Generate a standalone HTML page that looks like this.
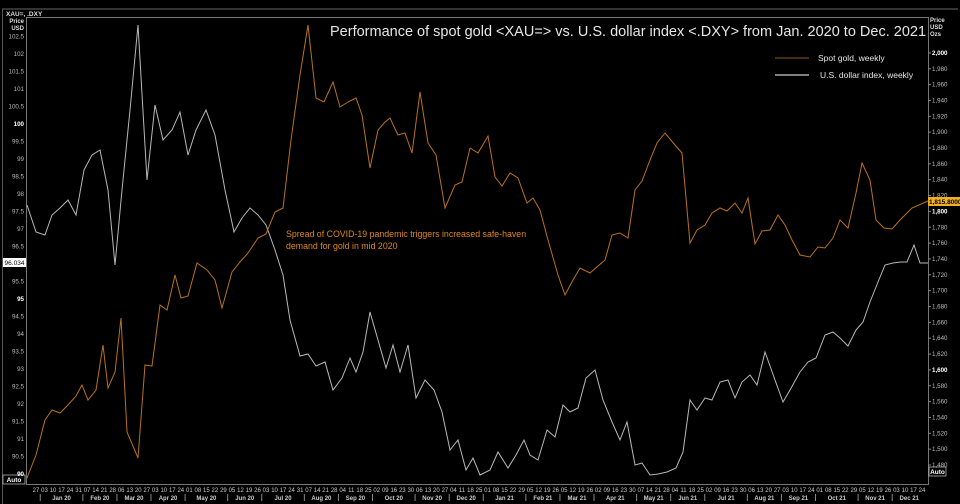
<!DOCTYPE html>
<html><head><meta charset="utf-8"><style>
html,body{margin:0;padding:0;background:#000;width:960px;height:504px;overflow:hidden}
svg{display:block;font-family:"Liberation Sans",sans-serif}
</style></head><body>
<svg id="s" width="960" height="504" viewBox="0 0 960 504">
<rect width="960" height="504" fill="#000"/>
<line x1="2" y1="9" x2="958" y2="9" stroke="#666" stroke-width="1"/>
<line x1="2.5" y1="9" x2="2.5" y2="504" stroke="#555"/>
<text x="6" y="16" fill="#ddd" font-size="6.5" font-weight="bold">XAU=, .DXY</text>
<rect x="26.5" y="17.5" width="902" height="467" fill="none" stroke="#777" stroke-width="1"/>
<text x="24" y="23" fill="#ddd" font-size="6" font-weight="bold" text-anchor="end">Price</text>
<text x="24" y="30" fill="#ddd" font-size="6" font-weight="bold" text-anchor="end">USD</text>
<text x="930" y="22" fill="#ddd" font-size="6" font-weight="bold">Price</text>
<text x="930" y="29" fill="#ddd" font-size="6" font-weight="bold">USD</text>
<text x="930" y="36" fill="#ddd" font-size="6" font-weight="bold">Ozs</text>
<rect x="3" y="475" width="22" height="9" fill="none" stroke="#ccc" stroke-width="0.7"/>
<text x="14" y="482" fill="#fff" font-size="6.5" font-weight="bold" text-anchor="middle">Auto</text>
<rect x="929" y="467" width="17" height="9" fill="none" stroke="#ccc" stroke-width="0.7"/>
<text x="937.5" y="474" fill="#fff" font-size="6.5" font-weight="bold" text-anchor="middle">Auto</text>
<text x="330" y="36" fill="#e6e6e6" font-size="14.5">Performance of spot gold &lt;XAU=&gt; vs. U.S. dollar index &lt;.DXY&gt;  from Jan. 2020 to Dec. 2021</text>
<line x1="775" y1="58" x2="809" y2="58" stroke="#8a5a1a" stroke-width="1"/>
<text x="818" y="61" fill="#e6e6e6" font-size="8.5">Spot gold, weekly</text>
<line x1="775" y1="75" x2="809" y2="75" stroke="#aaa" stroke-width="1.5"/>
<text x="820" y="78" fill="#e6e6e6" font-size="8.5">U.S. dollar index, weekly</text>
<text x="286" y="237" fill="#e0891e" font-size="8.8">Spread of COVID-19 pandemic triggers increased safe-haven</text>
<text x="286" y="249" fill="#e0891e" font-size="8.8">demand for gold in mid 2020</text>
<g id="g"></g>
</svg>
<script>
var ns="http://www.w3.org/2000/svg",G=document.getElementById("g");
function el(t,a,txt){var e=document.createElementNS(ns,t);for(var k in a)e.setAttribute(k,a[k]);if(txt!=null)e.textContent=txt;G.appendChild(e);return e;}
// left axis
for(var i=0;i<=25;i++){var v=90+i*0.5,y=474-i*17.5;var b=(v%5==0);
el("text",{x:24,y:y+2,fill:b?"#fff":"#bbb","font-size":6.2,"font-weight":b?"bold":"normal","text-anchor":"end"},(v%1==0?v.toFixed(0):v.toFixed(1)));}
// right axis
for(var v=1480;v<=2000;v+=20){var y=465-(v-1480)/20*15.85;var b=(v%200==0);
el("line",{x1:928,y1:y,x2:931,y2:y,stroke:"#888"});
el("text",{x:932,y:y+2,fill:b?"#fff":"#bbb","font-size":6.2,"font-weight":b?"bold":"normal"},(v+"").replace(/(\d)(\d{3})$/,"$1,$2"));}
// dates
var d=new Date(Date.UTC(2019,11,27)),x0=36,st=(922-36)/104,mon=["Jan","Feb","Mar","Apr","May","Jun","Jul","Aug","Sep","Oct","Nov","Dec"];
var groups={},order=[];
for(var i=0;i<105;i++){var dt=new Date(d.getTime()+i*7*864e5),x=x0+i*st;
el("text",{x:x,y:492,fill:"#ccc","font-size":6,"text-anchor":"middle"},("0"+dt.getUTCDate()).slice(-2));
var key=mon[dt.getUTCMonth()]+" "+(dt.getUTCFullYear()%100);
if(!groups[key]){groups[key]=[];order.push(key);}groups[key].push(x);}
order.forEach(function(k,j){if(k=="Dec 19")return;var a=groups[k];var c=(a[0]+a[a.length-1])/2;
el("text",{x:c,y:500,fill:"#ccc","font-size":6,"font-weight":"bold","text-anchor":"middle"},k);
el("line",{x1:a[0]-st/2,y1:494,x2:a[0]-st/2,y2:501,stroke:"#888"});});
var gold=[[27,478],[36,455],[45,420],[52,410],[60,413],[68,405],[76,396],[82,385],[88,400],[96,390],[103,345],[108,388],[115,372],[121,318],[127,432],[138,458],[145,365],[152,366],[160,305],[167,310],[175,275],[181,298],[188,296],[197,263],[207,270],[215,280],[222,308],[232,272],[240,262],[248,253],[258,238],[266,234],[275,212],[283,208],[291,140],[300,75],[308,25],[316,98],[324,102],[333,82],[340,107],[348,102],[356,98],[362,115],[370,168],[378,130],[385,122],[390,118],[398,135],[405,133],[412,153],[420,92],[428,143],[436,155],[445,208],[455,185],[462,182],[470,148],[478,153],[488,136],[495,177],[502,186],[510,173],[518,178],[527,203],[533,198],[540,210],[548,240],[558,275],[565,295],[573,280],[580,268],[590,273],[598,266],[605,260],[612,235],[620,233],[628,238],[635,190],[642,181],[650,160],[657,143],[665,133],[675,145],[682,153],[690,243],[697,230],[705,225],[712,213],[720,208],[727,211],[735,203],[742,213],[748,198],[755,244],[762,231],[770,230],[778,215],[785,225],[792,240],[800,255],[810,257],[818,247],[825,248],[833,238],[840,220],[848,228],[856,193],[862,163],[870,180],[876,220],[884,228],[892,229],[900,220],[912,208],[928,201]];
var dxy=[[27,205],[36,232],[45,235],[52,215],[60,208],[68,200],[76,215],[84,170],[92,155],[100,150],[108,190],[115,265],[122,190],[130,110],[138,25],[147,180],[155,105],[163,140],[172,130],[180,112],[188,155],[196,130],[206,110],[215,135],[225,190],[234,232],[242,218],[250,208],[258,215],[266,225],[275,250],[283,275],[290,320],[300,356],[308,354],[316,366],[325,362],[333,390],[342,378],[350,358],[356,372],[363,352],[370,312],[378,340],[386,368],[393,345],[400,372],[408,345],[416,398],[425,380],[434,390],[442,412],[450,450],[458,440],[466,470],[473,458],[480,475],[490,470],[498,452],[508,468],[516,455],[524,440],[530,455],[538,460],[547,430],[555,437],[563,405],[570,412],[578,408],[586,378],[595,370],[603,400],[612,422],[620,440],[627,422],[635,465],[642,463],[650,475],[658,474],[667,472],[676,468],[683,452],[690,400],[697,410],[705,398],[712,400],[720,382],[728,380],[735,398],[742,382],[750,375],[757,385],[765,352],[775,380],[783,402],[790,390],[800,372],[808,362],[816,358],[825,335],[833,332],[840,338],[848,346],[856,330],[863,322],[870,302],[878,282],[885,265],[893,263],[901,262],[907,262],[914,245],[920,263],[928,263]];
el("polyline",{points:dxy.join(" "),fill:"none",stroke:"#b8b8b8","stroke-width":1});
el("polyline",{points:gold.join(" "),fill:"none",stroke:"#b8721c","stroke-width":1});
el("rect",{x:3,y:258,width:23,height:9,fill:"#fff"});
el("text",{x:14.5,y:265,fill:"#000","font-size":6.5,"text-anchor":"middle"},"96.034");
el("rect",{x:928,y:197,width:32,height:9,fill:"#f0b020"});
el("text",{x:929,y:204,fill:"#000","font-size":6.5,"font-weight":"bold"},"1,815.8000");
</script>
</body></html>
